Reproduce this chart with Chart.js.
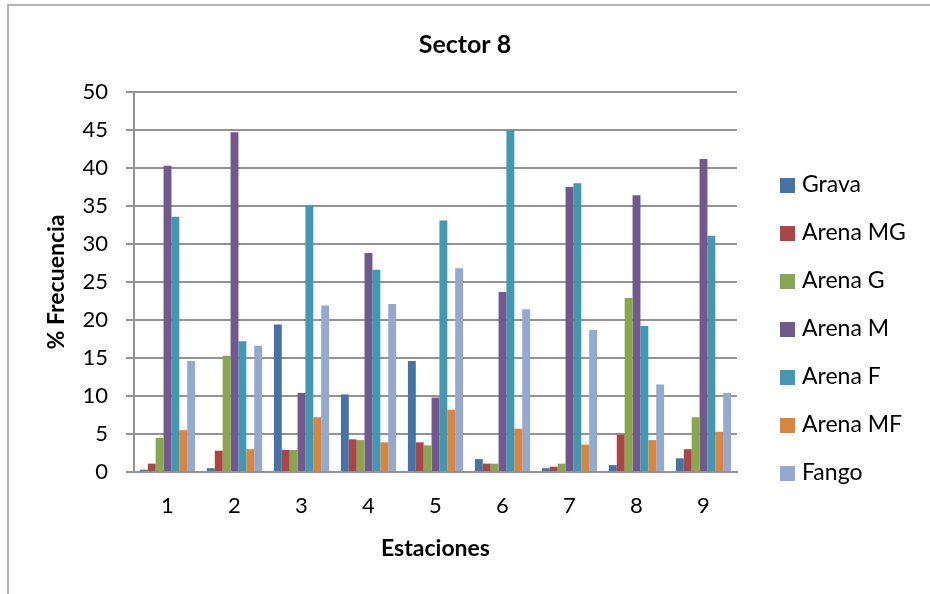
<!DOCTYPE html>
<html>
<head>
<meta charset="utf-8">
<style>
  html, body { margin: 0; padding: 0; background: #fff; }
  #wrap { position: relative; width: 930px; height: 594px; }
</style>
<script src="https://cdn.jsdelivr.net/npm/chart.js@4/dist/chart.umd.min.js"></script>
</head>
<body>
<div id="wrap"><canvas id="myChart" width="930" height="594"></canvas></div>
<script>
'use strict';

const stations = ['1', '2', '3', '4', '5', '6', '7', '8', '9'];
const seriesNames = ['Grava', 'Arena MG', 'Arena G', 'Arena M', 'Arena F', 'Arena MF', 'Fango'];

const grava = [0.3, 0.5, 19.4, 10.2, 14.6, 1.7, 0.5, 0.9, 1.8];
const arenaMG = [1.1, 2.8, 2.9, 4.3, 3.9, 1.1, 0.7, 4.9, 3.0];
const arenaG = [4.5, 15.3, 2.9, 4.2, 3.5, 1.1, 1.1, 22.9, 7.2];
const arenaM = [40.3, 44.7, 10.4, 28.8, 9.8, 23.7, 37.5, 36.4, 41.2];
const arenaF = [33.6, 17.2, 35.1, 26.6, 33.1, 45.0, 38.0, 19.2, 31.1];
const arenaMF = [5.5, 3.0, 7.2, 3.9, 8.2, 5.7, 3.6, 4.2, 5.3];
const fango = [14.6, 16.6, 21.9, 22.1, 26.8, 21.4, 18.7, 11.5, 10.4];

const seriesValues = [grava, arenaMG, arenaG, arenaM, arenaF, arenaMF, fango];
const seriesColors = ['#4672A8', '#AA4643', '#89A54E', '#71588F', '#4198AF', '#DB843D', '#93A9CF'];

const fontFamily = 'Lato, "Open Sans", sans-serif';
const gridColor = '#939393';

// outer frame of the chart object
const framePlugin = {
  id: 'frame',
  beforeDraw(chart) {
    const ctx = chart.ctx;
    ctx.save();
    ctx.fillStyle = '#fff';
    ctx.fillRect(0, 0, chart.width, chart.height);
    ctx.strokeStyle = '#9a9a9a';
    ctx.lineWidth = 1.5;
    ctx.strokeRect(8, 5, 1000, 1000);
    ctx.restore();
  }
};

// legend on the right, one entry per dataset
const sideLegend = {
  id: 'sideLegend',
  afterDraw(chart) {
    const ctx = chart.ctx;
    ctx.save();
    ctx.font = '23px ' + fontFamily;
    ctx.textBaseline = 'middle';
    ctx.textAlign = 'left';
    chart.data.datasets.forEach((ds, i) => {
      const y = 185 + i * 48;
      ctx.fillStyle = ds.backgroundColor;
      ctx.fillRect(780, y - 7, 15, 15);
      ctx.fillStyle = '#000';
      ctx.fillText(ds.label, 802, y);
    });
    ctx.restore();
  }
};

const datasets = [];
for (let i = 0; i < seriesNames.length; i++) {
  datasets.push({
    label: seriesNames[i],
    data: seriesValues[i],
    backgroundColor: seriesColors[i],
    borderWidth: 0,
    barPercentage: 1.0,
    categoryPercentage: 0.8235,
  });
}

const config = {
  type: 'bar',
  data: {
    labels: stations,
    datasets: datasets,
  },
  plugins: [framePlugin, sideLegend],
  options: {
    responsive: false,
    animation: false,
    layout: {
      padding: { left: 0, right: 0, top: 0, bottom: 0 },
    },
    plugins: {
      legend: { display: false },
      tooltip: { enabled: false },
      title: {
        display: true,
        text: 'Sector 8',
        color: '#000',
        font: { family: fontFamily, size: 25, weight: 'bold', lineHeight: 1.2 },
        padding: { top: 30, bottom: 32 },
      },
    },
    scales: {
      x: {
        grid: { display: false, drawTicks: false },
        border: { display: true, color: gridColor, width: 2 },
        ticks: {
          color: '#000',
          padding: 21,
          font: { family: fontFamily, size: 22, lineHeight: 1.2 },
        },
        title: {
          display: true,
          text: 'Estaciones',
          color: '#000',
          font: { family: fontFamily, size: 23, weight: 'bold', lineHeight: 1.2 },
          padding: { top: 0, bottom: 32 },
        },
        afterFit(scale) {
          scale.height = 122;
        },
      },
      y: {
        min: 0,
        max: 50,
        ticks: {
          stepSize: 5,
          color: '#000',
          padding: 18,
          font: { family: fontFamily, size: 22, lineHeight: 1.2 },
        },
        grid: { color: gridColor, lineWidth: 2, tickLength: 8 },
        border: { display: true, color: gridColor, width: 2 },
        title: {
          display: true,
          text: '% Frecuencia',
          color: '#000',
          font: { family: fontFamily, size: 23, weight: 'bold', lineHeight: 1.2 },
          padding: { top: 43, bottom: 0 },
        },
        afterFit(scale) {
          scale.width = 134;
        },
      },
      // empty right-hand axis that only reserves room for the legend
      legendSpace: {
        type: 'linear',
        position: 'right',
        display: true,
        ticks: { display: false },
        grid: { display: false, drawTicks: false },
        border: { display: false },
        afterFit(scale) {
          scale.width = 193;
        },
      },
    },
  },
};

const canvasChart = document.getElementById('myChart');
new Chart(canvasChart, config);
</script>
</body>
</html>
